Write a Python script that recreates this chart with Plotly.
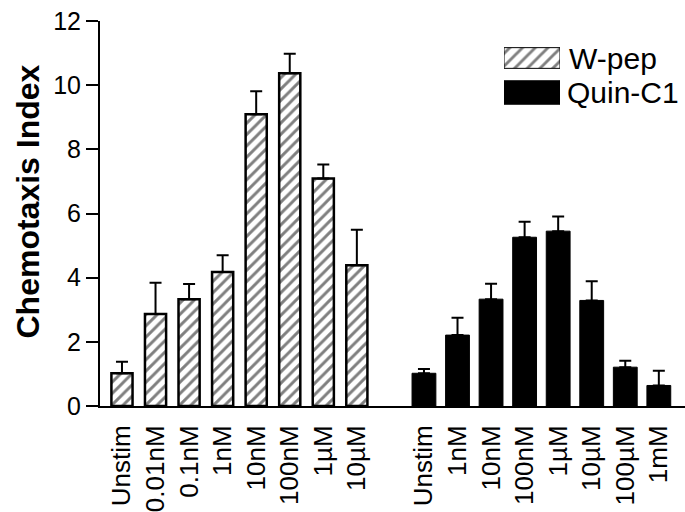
import plotly.graph_objects as go

# ---- data ----
wpep_labels = ["Unstim", "0.01nM", "0.1nM", "1nM", "10nM", "100nM", "1µM", "10µM"]
wpep_values = [1.02, 2.87, 3.33, 4.18, 9.09, 10.37, 7.09, 4.39]
wpep_upper = [1.38, 3.84, 3.80, 4.70, 9.81, 10.98, 7.53, 5.49]

quin_labels = ["Unstim", "1nM", "10nM", "100nM", "1µM", "10µM", "100µM", "1mM"]
quin_values = [1.02, 2.21, 3.33, 5.26, 5.45, 3.29, 1.21, 0.64]
quin_upper = [1.15, 2.75, 3.81, 5.74, 5.91, 3.89, 1.41, 1.10]

y_ticks = [0, 2, 4, 6, 8, 10, 12]

# positions: W-pep group, one empty slot, Quin-C1 group
wpep_x = list(range(len(wpep_labels)))
quin_x = [len(wpep_labels) + 1 + i for i in range(len(quin_labels))]

FONT = "Liberation Sans, Arial, sans-serif"

fig = go.Figure()

fig.add_trace(go.Bar(
    x=wpep_x, y=wpep_values, width=0.63, name="W-pep",
    marker=dict(color="white", line=dict(color="black", width=2.5),
                pattern=dict(shape="/", fgcolor="black", bgcolor="white",
                             size=8, solidity=0.36)),
    error_y=dict(type="data", symmetric=False,
                 array=[u - v for u, v in zip(wpep_upper, wpep_values)],
                 arrayminus=[0] * len(wpep_values),
                 color="black", thickness=2, width=6),
    showlegend=False,
))

fig.add_trace(go.Bar(
    x=quin_x, y=quin_values, width=0.71, name="Quin-C1",
    marker=dict(color="black", line=dict(color="black", width=1)),
    error_y=dict(type="data", symmetric=False,
                 array=[u - v for u, v in zip(quin_upper, quin_values)],
                 arrayminus=[0] * len(quin_values),
                 color="black", thickness=2, width=6),
    showlegend=False,
))

# legend keys drawn on a small hidden overlay axis
fig.add_trace(go.Bar(
    x=[1], y=[1], orientation="h", width=0.6, xaxis="x2", yaxis="y2",
    marker=dict(color="white", line=dict(color="black", width=1),
                pattern=dict(shape="/", fgcolor="black", bgcolor="white",
                             size=9, solidity=0.32)),
    showlegend=False, hoverinfo="skip",
))
fig.add_trace(go.Bar(
    x=[1], y=[0], orientation="h", width=0.68, xaxis="x2", yaxis="y2",
    marker=dict(color="black", line=dict(color="black", width=1)),
    showlegend=False, hoverinfo="skip",
))

W, H = 685, 512
L, R, T, B = 100, 0, 21, 106
pw, ph = W - L - R, H - T - B

def px_x(p):
    return (p - L) / pw

def px_y(p):
    return (H - B - p) / ph

fig.update_layout(
    width=W, height=H,
    margin=dict(l=L, r=R, t=T, b=B),
    paper_bgcolor="white", plot_bgcolor="white",
    barmode="overlay",
    font=dict(family=FONT, color="black"),
    xaxis=dict(
        range=[-0.655, 16.78],
        tickmode="array", tickvals=wpep_x + quin_x, ticktext=wpep_labels + quin_labels,
        tickangle=-90, tickfont=dict(size=26, family=FONT, color="black"),
        showline=True, linecolor="black", linewidth=2,
        ticks="outside", ticklen=7, tickcolor="rgba(0,0,0,0)",
        showgrid=False, zeroline=False,
    ),
    yaxis=dict(
        range=[0, 12], tickmode="array", tickvals=y_ticks,
        tickfont=dict(size=25, family=FONT, color="black"),
        ticks="outside", ticklen=12, tickwidth=2, tickcolor="black",
        showline=True, linecolor="black", linewidth=2,
        showgrid=False, zeroline=False,
    ),
    xaxis2=dict(domain=[px_x(504), px_x(560)], range=[0, 1], visible=False,
                anchor="y2", fixedrange=True),
    yaxis2=dict(domain=[px_y(109.75), px_y(40.75)], range=[-0.5, 1.5], visible=False,
                anchor="x2", fixedrange=True),
    annotations=[
        dict(text="<b>Chemotaxis Index</b>", xref="paper", yref="paper",
             x=px_x(27), y=px_y(201.5), textangle=-90, showarrow=False,
             xanchor="center", yanchor="middle",
             font=dict(size=32, family=FONT, color="black")),
        dict(text="W-pep", xref="paper", yref="paper", x=px_x(567), y=px_y(58),
             showarrow=False, xanchor="left", yanchor="middle",
             font=dict(size=30, family=FONT, color="black")),
        dict(text="Quin-C1", xref="paper", yref="paper", x=px_x(565), y=px_y(92.5),
             showarrow=False, xanchor="left", yanchor="middle",
             font=dict(size=30, family=FONT, color="black")),
    ],
)

fig.write_html("out.html")
